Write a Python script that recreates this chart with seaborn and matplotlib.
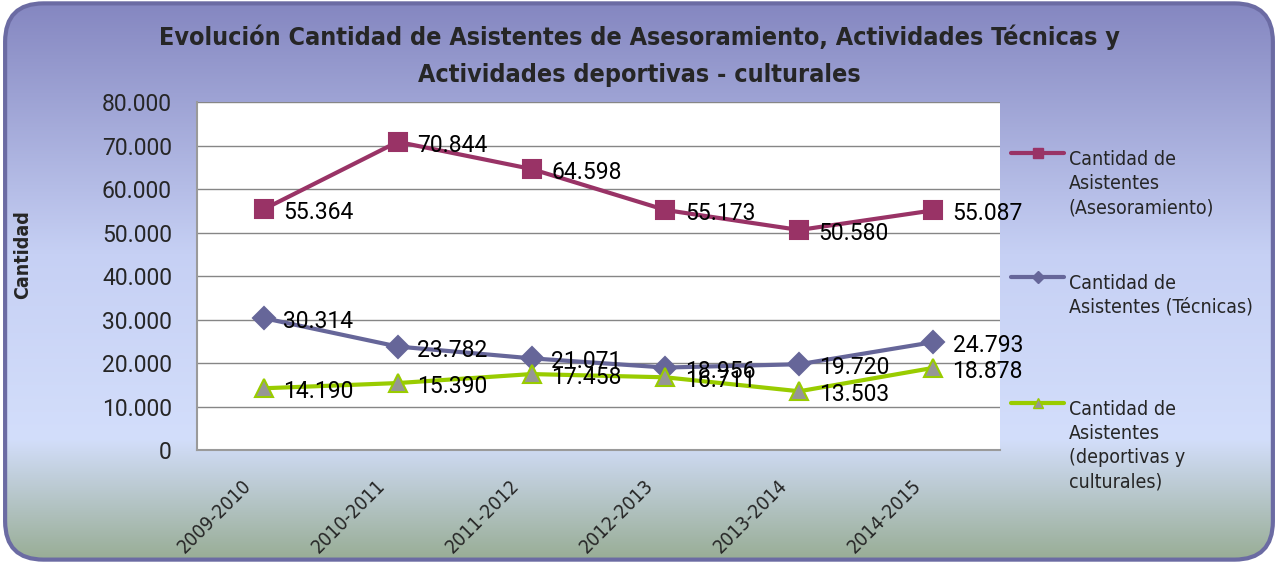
import numpy as np
import pandas as pd
import matplotlib
matplotlib.use("Agg")
import matplotlib.pyplot as plt
import seaborn as sns
from matplotlib.patches import FancyBboxPatch
from matplotlib.lines import Line2D
from matplotlib.colors import LinearSegmentedColormap
from matplotlib.transforms import ScaledTranslation

# Data
periodos = ["2009-2010", "2010-2011", "2011-2012", "2012-2013", "2013-2014", "2014-2015"]
asesoramiento = [55364, 70844, 64598, 55173, 50580, 55087]
tecnicas = [30314, 23782, 21071, 18956, 19720, 24793]
deportivas = [14190, 15390, 17458, 16711, 13503, 18878]

serie_nombres = [
    "Cantidad de\nAsistentes\n(Asesoramiento)",
    "Cantidad de\nAsistentes (Técnicas)",
    "Cantidad de\nAsistentes\n(deportivas y\nculturales)",
]
y_ticks = [0, 10000, 20000, 30000, 40000, 50000, 60000, 70000, 80000]


def fmt_miles(v):
    # Spanish thousands separator
    return f"{int(v):,}".replace(",", ".")


sns.set_theme(style="white")
plt.rcParams["font.family"] = ["Roboto", "DejaVu Sans"]
narrow = ["DejaVu Sans"]

fig = plt.figure(figsize=(12.78, 5.63), dpi=100)
fig.patch.set_facecolor("white")

# Background gradient with rounded border
bg = fig.add_axes([0, 0, 1, 1], zorder=-10)
bg.set_xlim(0, 1)
bg.set_ylim(0, 1)
bg.axis("off")
cmap = LinearSegmentedColormap.from_list(
    "fondo", [(0, "#8486C0"), (0.45, "#C6D0F4"), (0.78, "#D3DEFB"), (1.0, "#97AC93")]
)
img = bg.imshow(np.linspace(0, 1, 256).reshape(-1, 1), aspect="auto", cmap=cmap,
                extent=[0, 1, 0, 1], origin="upper")
box = FancyBboxPatch((0.004, 0.006), 0.992, 0.988,
                     boxstyle="round,pad=0,rounding_size=0.03",
                     transform=bg.transAxes, facecolor="none",
                     edgecolor="#6B6BA3", linewidth=3, mutation_aspect=1278 / 563)
bg.add_patch(box)
img.set_clip_path(box)

ax = fig.add_axes([0.1541, 0.2007, 0.6284, 0.6181])
ax.set_facecolor("white")

x = np.arange(len(periodos))
series = [
    (asesoramiento, "#993366", "s", "#993366", "#993366", 13),
    (tecnicas, "#666699", "D", "#666699", "#666699", 11),
    (deportivas, "#99CC00", "^", "#969696", "#99CC00", 13),
]

for (vals, color, marker, mfc, mec, ms), nombre in zip(series, serie_nombres):
    sns.lineplot(x=x, y=vals, ax=ax, color=color, linewidth=3, marker=marker,
                 markersize=ms, markerfacecolor=mfc, markeredgecolor=mec,
                 markeredgewidth=1.5, label=nombre, legend=False, zorder=3)
    for xi, v in zip(x, vals):
        ax.annotate(fmt_miles(v), (xi, v), xytext=(14, -2.5), textcoords="offset points",
                    ha="left", va="center", fontsize=16.5, color="black", zorder=4)

ax.set_xlim(-0.5, len(periodos) - 0.5)
ax.set_ylim(0, 80000)
ax.set_yticks(y_ticks)
ax.set_yticklabels([fmt_miles(t) for t in y_ticks], fontsize=16.5)
ax.set_xticks(x)
ax.tick_params(axis="y", pad=18, length=0)
ax.tick_params(axis="x", pad=0, length=0)
ax.set_xticklabels(periodos, rotation=45, ha="right", va="top", rotation_mode="anchor",
                   fontsize=14, family=narrow, fontstretch="condensed")
shift = ScaledTranslation(-0.22, -0.26, fig.dpi_scale_trans)
for lbl in ax.get_xticklabels():
    lbl.set_transform(lbl.get_transform() + shift)
ax.yaxis.grid(True, color="#868686", linewidth=1)
ax.set_axisbelow(True)
for s in ["top", "right"]:
    ax.spines[s].set_visible(False)
for s in ["left", "bottom"]:
    ax.spines[s].set_color("#9A9A9A")
    ax.spines[s].set_linewidth(1.5)

ax.set_ylabel("Cantidad", fontsize=14, fontweight="bold", family=narrow,
              fontstretch="condensed")
ax.yaxis.set_label_coords(-0.205, 0.563)
ax.set_xlabel("")

titulo_kw = dict(ha="center", va="center", fontsize=18, fontweight="bold",
                 family=narrow, fontstretch="condensed")
fig.text(0.5, 1 - 37 / 563,
         "Evolución Cantidad de Asistentes de Asesoramiento, Actividades Técnicas y",
         **titulo_kw)
fig.text(0.5, 1 - 75 / 563, "Actividades deportivas - culturales", **titulo_kw)

# Manual legend to the right of the plot
leg_y = [1 - 153 / 563, 1 - 277 / 563, 1 - 403 / 563]
x0, x1, xt = 1011 / 1278, 1064 / 1278, 1069 / 1278
for (vals, color, marker, mfc, mec, ms), nombre, yy in zip(series, serie_nombres, leg_y):
    fig.add_artist(Line2D([x0, x1], [yy, yy], color=color, linewidth=3,
                          transform=fig.transFigure))
    fig.add_artist(Line2D([(x0 + x1) / 2], [yy], marker=marker, markersize=ms * 0.6,
                          markerfacecolor=mfc, markeredgecolor=mec, linestyle="none",
                          transform=fig.transFigure))
    fig.text(xt, yy + 0.006, nombre, ha="left", va="top", fontsize=14,
             family=narrow, fontstretch="condensed", linespacing=1.35)

fig.savefig("out.png", dpi=100)
